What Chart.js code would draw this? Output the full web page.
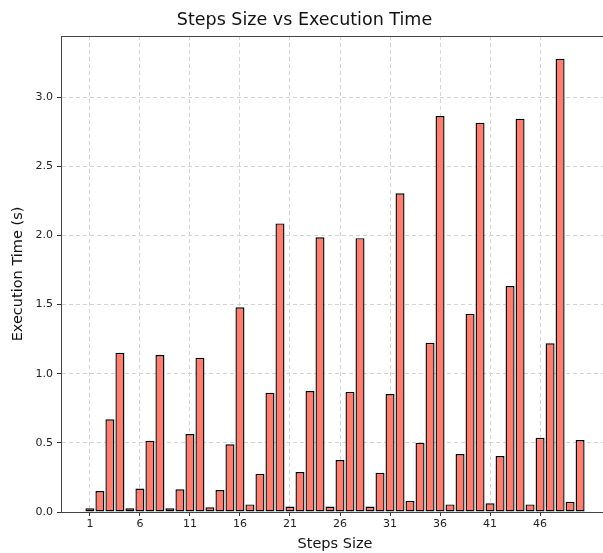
<!DOCTYPE html>
<html>
<head>
<meta charset="utf-8">
<script src="https://cdn.jsdelivr.net/npm/chart.js@4/dist/chart.umd.min.js"></script>
<style>
html,body{margin:0;padding:0;overflow:hidden;background:#fff;}
#wrap{position:absolute;left:0;top:0;width:612px;height:553px;}
</style>
</head>
<body>
<div id="wrap"><canvas id="c" width="612" height="553"></canvas></div>
<script>
const stepSizes = [];
for (let i = 1; i <= 50; i++) stepSizes.push(i);
const execTimes = [
  0.027, 0.152, 0.67, 1.152, 0.027, 0.17, 0.516, 1.135, 0.027, 0.164,
  0.564, 1.116, 0.034, 0.159, 0.489, 1.48, 0.055, 0.275, 0.863, 2.087,
  0.039, 0.289, 0.875, 1.986, 0.039, 0.376, 0.868, 1.98, 0.039, 0.284,
  0.853, 2.304, 0.08, 0.501, 1.224, 2.863, 0.055, 0.419, 1.432, 2.815,
  0.063, 0.405, 1.634, 2.844, 0.055, 0.537, 1.22, 3.278, 0.074, 0.52
];
const xTickValues = [1, 6, 11, 16, 21, 26, 31, 36, 41, 46];
const yTickValues = [0, 0.5, 1.0, 1.5, 2.0, 2.5, 3.0];

const points = stepSizes.map((s, i) => ({x: s, y: execTimes[i]}));
const xMin = 1 - 0.4 - 0.05 * (49.8), xMax = 50 + 0.4 + 0.05 * 49.8;
const yMax = Math.max(...execTimes) * 1.05;

const frame = {
  id: 'frame',
  afterDatasetsDraw(chart) {
    const a = chart.chartArea, ctx = chart.ctx;
    ctx.save();
    ctx.strokeStyle = '#444';
    ctx.lineWidth = 1;
    ctx.strokeRect(Math.round(a.left) + 0.5, Math.round(a.top) + 0.5, Math.round(a.right - a.left), Math.round(a.bottom - a.top));
    ctx.restore();
  }
};

new Chart(document.getElementById('c'), {
  type: 'bar',
  data: {
    datasets: [{
      data: points,
      backgroundColor: '#FB7F70',
      borderColor: '#000000',
      borderWidth: 1.4,
      borderSkipped: false,
      barPercentage: 0.9,
      categoryPercentage: 1.0
    }]
  },
  options: {
    responsive: false,
    animation: false,
    layout: {padding: {left: 0, right: 3, top: 0, bottom: 0}},
    plugins: {
      legend: {display: false},
      tooltip: {enabled: false},
      title: {
        display: true,
        text: 'Steps Size vs Execution Time',
        color: '#111',
        font: {family: 'DejaVu Sans', size: 17.5, weight: 'normal', lineHeight: 1.2},
        padding: {top: 10, bottom: 5}
      }
    },
    scales: {
      x: {
        type: 'linear',
        min: xMin,
        max: xMax,
        offset: false,
        afterBuildTicks: s => { s.ticks = xTickValues.map(v => ({value: v})); },
        afterFit: s => { s.height = 41; },
        ticks: {
          color: '#222',
          font: {family: 'DejaVu Sans', size: 11},
          padding: 2,
          maxRotation: 0,
          autoSkip: false,
          callback: v => String(v)
        },
        grid: {
          offset: false,
          color: '#d4d4d4',
          tickColor: '#333',
          tickLength: 4,
          tickBorderDash: []
        },
        border: {display: true, color: '#444', width: 1, dash: [4, 3]},
        title: {
          display: true,
          text: 'Steps Size',
          color: '#111',
          font: {family: 'DejaVu Sans', size: 14.5},
          padding: {top: 0, bottom: 0}
        }
      },
      y: {
        min: 0,
        max: yMax,
        afterBuildTicks: s => { s.ticks = yTickValues.map(v => ({value: v})); },
        afterFit: s => { s.width = 61; },
        ticks: {
          color: '#222',
          font: {family: 'DejaVu Sans', size: 11},
          padding: 4,
          callback: v => Number(v).toFixed(1)
        },
        grid: {
          color: '#d4d4d4',
          tickColor: '#333',
          tickLength: 4,
          tickBorderDash: []
        },
        border: {display: true, color: '#444', width: 1, dash: [4, 3]},
        title: {
          display: true,
          text: 'Execution Time (s)',
          color: '#111',
          font: {family: 'DejaVu Sans', size: 14.5},
          padding: {top: 10, bottom: 6}
        }
      }
    }
  },
  plugins: [frame]
});
</script>
</body>
</html>
